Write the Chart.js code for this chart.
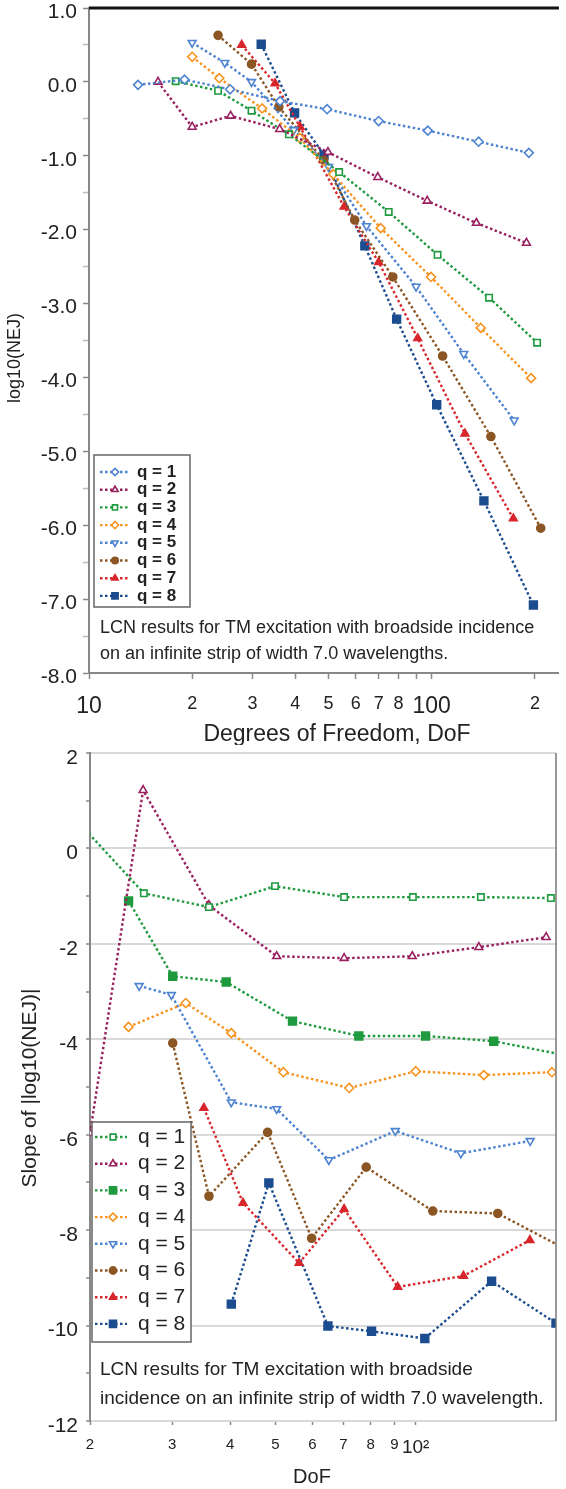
<!DOCTYPE html>
<html>
<head>
<meta charset="utf-8">
<script src="https://cdn.jsdelivr.net/npm/chart.js@4.4.1/dist/chart.umd.min.js"></script>
<style>
  html, body { margin: 0; padding: 0; background: #fff; }
  #wrap { position: relative; width: 566px; height: 1489px; }
  canvas { position: absolute; left: 0; }
  #topChart { top: 0; }
  #bottomChart { top: 745px; }
</style>
</head>
<body>
<div id="wrap">
  <canvas id="topChart" width="566" height="745"></canvas>
  <canvas id="bottomChart" width="566" height="744"></canvas>
</div>
<script>
// ---------- top chart: log10(NEJ) vs DoF ----------
const topQ1x = [13.9, 19.0, 25.8, 36.1, 49.5, 70, 97.4, 137, 192];
const topQ1y = [-0.04, 0.03, -0.10, -0.26, -0.37, -0.53, -0.66, -0.81, -0.96];
const topQ2x = [15.9, 20.0, 25.9, 36.0, 49.8, 69.6, 97, 135, 189];
const topQ2y = [0.0, -0.61, -0.46, -0.64, -0.95, -1.29, -1.61, -1.91, -2.18];
const topQ3x = [17.9, 23.8, 29.8, 38.3, 53.7, 74.9, 104, 147, 203];
const topQ3y = [0.01, -0.12, -0.39, -0.71, -1.22, -1.76, -2.34, -2.92, -3.53];
const topQ4x = [20.0, 24.0, 32.0, 41.2, 51.6, 71, 99.5, 139, 195];
const topQ4y = [0.34, 0.05, -0.36, -0.76, -1.25, -1.98, -2.64, -3.33, -4.01];
const topQ5x = [20.0, 24.9, 29.8, 39.6, 50.0, 64.5, 90, 124, 174];
const topQ5y = [0.53, 0.26, 0.0, -0.65, -1.15, -1.95, -2.77, -3.68, -4.58];
const topQ6x = [23.8, 29.8, 35.8, 48.4, 59.6, 77, 107.6, 148.8, 208];
const topQ6y = [0.63, 0.24, -0.34, -1.06, -1.87, -2.64, -3.71, -4.80, -6.04];
const topQ7x = [27.9, 34.9, 41.3, 55.5, 70, 91, 125, 173];
const topQ7y = [0.50, -0.02, -0.61, -1.69, -2.44, -3.47, -4.76, -5.91];
const topQ8x = [31.8, 39.8, 48.5, 63.8, 79, 103.4, 142, 198];
const topQ8y = [0.51, -0.42, -0.99, -2.22, -3.21, -4.37, -5.67, -7.08];

const topXTicks = [10, 20, 30, 40, 50, 60, 70, 80, 90, 100, 200];
const topXLabels = ['10', '2', '3', '4', '5', '6', '7', '8', '', '100', '2'];
const topYTicks = [1, 0.5, 0, -0.5, -1, -1.5, -2, -2.5, -3, -3.5, -4, -4.5, -5, -5.5, -6, -6.5, -7, -7.5, -8];

// ---------- bottom chart: slope vs DoF ----------
const botQ1x = [18.6, 26.1, 36, 49.9, 70.2, 98.6, 138, 195];
const botQ1y = [0.62, -0.94, -1.23, -0.79, -1.02, -1.02, -1.02, -1.04];
const botQ2x = [20, 26.0, 36, 50.3, 70.2, 98.3, 136.6, 190.5];
const botQ2y = [-5.97, 1.22, -1.19, -2.26, -2.30, -2.26, -2.07, -1.86];
const botQ3x = [24.2, 30.1, 39.2, 54.4, 75.5, 105, 147, 206];
const botQ3y = [-1.10, -2.68, -2.80, -3.62, -3.93, -3.93, -4.04, -4.32];
const botQ4x = [24.2, 32.1, 40.2, 52.0, 72, 100, 140, 196];
const botQ4y = [-3.74, -3.24, -3.87, -4.69, -5.02, -4.67, -4.75, -4.69];
const botQ5x = [25.5, 29.9, 40.2, 50.3, 65.1, 90.4, 125, 176];
const botQ5y = [-2.88, -3.07, -5.32, -5.46, -6.53, -5.92, -6.39, -6.13];
const botQ6x = [30.1, 36, 48.1, 59.8, 78.3, 108.8, 150, 210];
const botQ6y = [-4.08, -7.29, -5.95, -8.17, -6.68, -7.60, -7.65, -8.40];
const botQ7x = [35.1, 42.6, 56.2, 70.2, 91.5, 126.6, 175.8];
const botQ7y = [-5.44, -7.43, -8.69, -7.56, -9.19, -8.96, -8.21];
const botQ8x = [40.2, 48.4, 64.8, 80.4, 104.6, 145.5, 200];
const botQ8y = [-9.55, -7.01, -10.01, -10.12, -10.27, -9.07, -9.95];

const botXTicks = [20, 30, 40, 50, 60, 70, 80, 90, 100];
const botXLabels = ['2', '3', '4', '5', '6', '7', '8', '9', '10\u00b2'];
const botYTicks = [2, 1, 0, -1, -2, -3, -4, -5, -6, -7, -8, -9, -10, -11, -12];

const seriesLabels = ['q = 1', 'q = 2', 'q = 3', 'q = 4', 'q = 5', 'q = 6', 'q = 7', 'q = 8'];

// ---------- styling ----------
const FONT = '"Liberation Sans", Arial, sans-serif';
const C = {
  lightBlue: '#4d83d0',
  maroon: '#98205f',
  green: '#1f9a3e',
  orange: '#f7931e',
  brown: '#8b5524',
  red: '#d8262d',
  darkBlue: '#1b4c8f',
};

// [color, pointStyle, rotation, filled]
const topStyles = [
  [C.lightBlue, 'rectRot', 0, false],
  [C.maroon, 'triangle', 0, false],
  [C.green, 'rect', 0, false],
  [C.orange, 'rectRot', 0, false],
  [C.lightBlue, 'triangle', 180, false],
  [C.brown, 'circle', 0, true],
  [C.red, 'triangle', 0, true],
  [C.darkBlue, 'rect', 0, true],
];
const botStyles = [
  [C.green, 'rect', 0, false],
  [C.maroon, 'triangle', 0, false],
  [C.green, 'rect', 0, true],
  [C.orange, 'rectRot', 0, false],
  [C.lightBlue, 'triangle', 180, false],
  [C.brown, 'circle', 0, true],
  [C.red, 'triangle', 0, true],
  [C.darkBlue, 'rect', 0, true],
];

function makeSets(xs, ys, styles) {
  return xs.map((xArr, i) => {
    const [color, shape, rot, filled] = styles[i];
    return {
      label: seriesLabels[i],
      data: xArr.map((x, j) => ({ x: x, y: ys[i][j] })),
      borderColor: color,
      backgroundColor: filled ? color : '#fff',
      pointBorderColor: color,
      pointBackgroundColor: filled ? color : '#fff',
      pointStyle: shape,
      pointRotation: rot,
      pointRadius: shape === 'circle' ? 4 : (shape === 'rect' && filled ? 5.5 : 4.5),
      pointHoverRadius: shape === 'circle' ? 4 : 4.5,
      pointBorderWidth: 1.6,
      borderWidth: 2.4,
      borderDash: [2.5, 2.5],
      tension: 0,
      fill: false,
    };
  });
}

function line(ctx, x0, y0, x1, y1) {
  ctx.beginPath(); ctx.moveTo(x0, y0); ctx.lineTo(x1, y1); ctx.stroke();
}

// draws the framed legend, the note text, extra rules and the axis titles
const overlay = {
  id: 'overlay',
  afterDatasetsDraw(chart, args, o) {
    const ctx = chart.ctx, a = chart.chartArea;
    ctx.save();
    if (o.topRule) {
      ctx.strokeStyle = '#111'; ctx.lineWidth = 3;
      line(ctx, a.left, a.top, a.right, a.top);
    }
    if (o.rightRule) {
      ctx.strokeStyle = '#777'; ctx.lineWidth = 1.5;
      line(ctx, a.right, a.top, a.right, a.bottom);
    }
    // legend
    const L = o.legend;
    ctx.fillStyle = '#fff';
    ctx.fillRect(L.x, L.y, L.w, L.h);
    ctx.strokeStyle = '#666'; ctx.lineWidth = 1.5;
    ctx.strokeRect(L.x, L.y, L.w, L.h);
    chart.data.datasets.forEach((ds, i) => {
      const cy = L.y + L.first + i * L.row;
      ctx.setLineDash(ds.borderDash);
      ctx.strokeStyle = ds.borderColor; ctx.lineWidth = ds.borderWidth;
      line(ctx, L.x + L.l0, cy, L.x + L.l1, cy);
      ctx.setLineDash([]);
      ctx.fillStyle = ds.pointBackgroundColor;
      ctx.strokeStyle = ds.pointBorderColor;
      ctx.lineWidth = ds.pointBorderWidth;
      Chart.helpers.drawPoint(ctx, {
        pointStyle: ds.pointStyle, rotation: ds.pointRotation,
        radius: ds.pointRadius * L.scale, borderWidth: ds.pointBorderWidth
      }, L.x + L.mx, cy);
      ctx.fillStyle = '#222';
      ctx.font = L.font;
      ctx.textBaseline = 'middle';
      ctx.textAlign = 'left';
      ctx.fillText(ds.label, L.x + L.tx, cy);
    });
    // note
    ctx.fillStyle = '#222';
    ctx.font = o.note.font;
    ctx.textBaseline = 'alphabetic';
    ctx.textAlign = 'left';
    o.note.lines.forEach((t, i) => ctx.fillText(t, o.note.x, o.note.y[i]));
    // axis titles
    ctx.textAlign = 'center';
    ctx.textBaseline = 'middle';
    ctx.font = o.xTitle.font;
    ctx.fillText(o.xTitle.text, o.xTitle.x, o.xTitle.y);
    ctx.translate(o.yTitle.x, o.yTitle.y);
    ctx.rotate(-Math.PI / 2);
    ctx.font = o.yTitle.font;
    ctx.fillText(o.yTitle.text, 0, 0);
    ctx.restore();
  }
};

function fixWidth(w) {
  return s => { s.width = w; s.paddingTop = 0; s.paddingBottom = 0; };
}
function fixHeight(h) {
  return s => { s.height = h; s.paddingLeft = 0; s.paddingRight = 0; };
}

// ---------- top chart ----------
new Chart(document.getElementById('topChart'), {
  type: 'line',
  data: {
    datasets: makeSets(
      [topQ1x, topQ2x, topQ3x, topQ4x, topQ5x, topQ6x, topQ7x, topQ8x],
      [topQ1y, topQ2y, topQ3y, topQ4y, topQ5y, topQ6y, topQ7y, topQ8y],
      topStyles)
  },
  options: {
    responsive: false,
    animation: false,
    devicePixelRatio: 1,
    layout: { padding: { top: 8, right: 0, left: 0, bottom: 0 } },
    plugins: {
      legend: { display: false },
      tooltip: { enabled: false },
      overlay: {
        topRule: true,
        legend: { x: 94, y: 455, w: 96, h: 152, first: 17, row: 17.7,
                  l0: 6, l1: 36, mx: 21, tx: 43, scale: 0.8,
                  font: 'bold 17px ' + FONT },
        note: { font: '18px ' + FONT, x: 100, y: [633, 659],
                lines: ['LCN results for TM excitation with broadside incidence',
                        'on an infinite strip of width 7.0 wavelengths.'] },
        xTitle: { text: 'Degrees of Freedom, DoF', font: '23px ' + FONT, x: 337, y: 735 },
        yTitle: { text: 'log10(NEJ)', font: '18px ' + FONT, x: 15, y: 358 },
      }
    },
    scales: {
      x: {
        type: 'logarithmic',
        min: 10, max: 235,
        afterBuildTicks: s => { s.ticks = topXTicks.map(v => ({ value: v })); },
        afterFit: fixHeight(72),
        grid: { drawOnChartArea: false, tickLength: 6, tickColor: '#888', tickWidth: 1.5 },
        border: { color: '#888', width: 2 },
        ticks: {
          autoSkip: false, maxRotation: 0, minRotation: 0, padding: 14,
          color: '#222',
          callback: (v, i) => topXLabels[i],
          font: c => ({ family: FONT, size: (c.tick && (c.tick.value === 10 || c.tick.value === 100)) ? 23 : 18 }),
        },
      },
      y: {
        type: 'linear',
        min: -8, max: 1,
        afterBuildTicks: s => { s.ticks = topYTicks.map(v => ({ value: v })); },
        afterFit: fixWidth(89),
        grid: { drawOnChartArea: false, tickLength: 6,
                tickColor: c => (c.tick && Number.isInteger(c.tick.value)) ? '#888' : '#bbb',
                tickWidth: 1.5 },
        border: { color: '#888', width: 2 },
        ticks: {
          autoSkip: false, padding: 6, color: '#222', labelOffset: 4,
          font: { family: FONT, size: 21 },
          callback: v => Number.isInteger(v) ? v.toFixed(1) : '',
        },
      },
    },
  },
  plugins: [overlay],
});

// ---------- bottom chart ----------
new Chart(document.getElementById('bottomChart'), {
  type: 'line',
  data: {
    datasets: makeSets(
      [botQ1x, botQ2x, botQ3x, botQ4x, botQ5x, botQ6x, botQ7x, botQ8x],
      [botQ1y, botQ2y, botQ3y, botQ4y, botQ5y, botQ6y, botQ7y, botQ8y],
      botStyles)
  },
  options: {
    responsive: false,
    animation: false,
    devicePixelRatio: 1,
    layout: { padding: { top: 8, right: 10, left: 0, bottom: 0 } },
    plugins: {
      legend: { display: false },
      tooltip: { enabled: false },
      overlay: {
        rightRule: true,
        legend: { x: 92, y: 377, w: 99, h: 220, first: 15, row: 26.7,
                  l0: 3, l1: 35, mx: 21, tx: 46, scale: 0.9,
                  font: '21px ' + FONT },
        note: { font: '19px ' + FONT, x: 100, y: [630, 659],
                lines: ['LCN results for TM excitation with broadside',
                        'incidence on an infinite strip of width 7.0 wavelength.'] },
        xTitle: { text: 'DoF', font: '20px ' + FONT, x: 312, y: 732 },
        yTitle: { text: 'Slope of |log10(NEJ)|', font: '21px ' + FONT, x: 30, y: 343 },
      }
    },
    scales: {
      x: {
        type: 'logarithmic',
        min: 20, max: 200,
        afterBuildTicks: s => { s.ticks = botXTicks.map(v => ({ value: v })); },
        afterFit: fixHeight(68),
        grid: { drawOnChartArea: false, tickLength: 4, tickColor: '#888', tickWidth: 1.5 },
        border: { display: false },
        ticks: {
          autoSkip: false, maxRotation: 0, minRotation: 0, padding: 11,
          color: '#222',
          callback: (v, i) => botXLabels[i],
          font: c => ({ family: FONT, size: (c.tick && c.tick.value === 100) ? 19 : 15 }),
        },
      },
      y: {
        type: 'linear',
        min: -12, max: 2,
        afterBuildTicks: s => { s.ticks = botYTicks.map(v => ({ value: v })); },
        afterFit: fixWidth(90),
        grid: {
          drawOnChartArea: true, tickLength: 4,
          color: c => (c.tick && c.tick.value % 2 === 0) ? '#d9d9d9' : 'rgba(0,0,0,0)',
          lineWidth: 2,
          tickColor: '#888', tickWidth: 1.5,
        },
        border: { color: '#888', width: 2 },
        ticks: {
          autoSkip: false, padding: 8, color: '#222', labelOffset: 5,
          font: { family: FONT, size: 21 },
          callback: v => (v % 2 === 0) ? String(v) : '',
        },
      },
    },
  },
  plugins: [overlay],
});
</script>
</body>
</html>
